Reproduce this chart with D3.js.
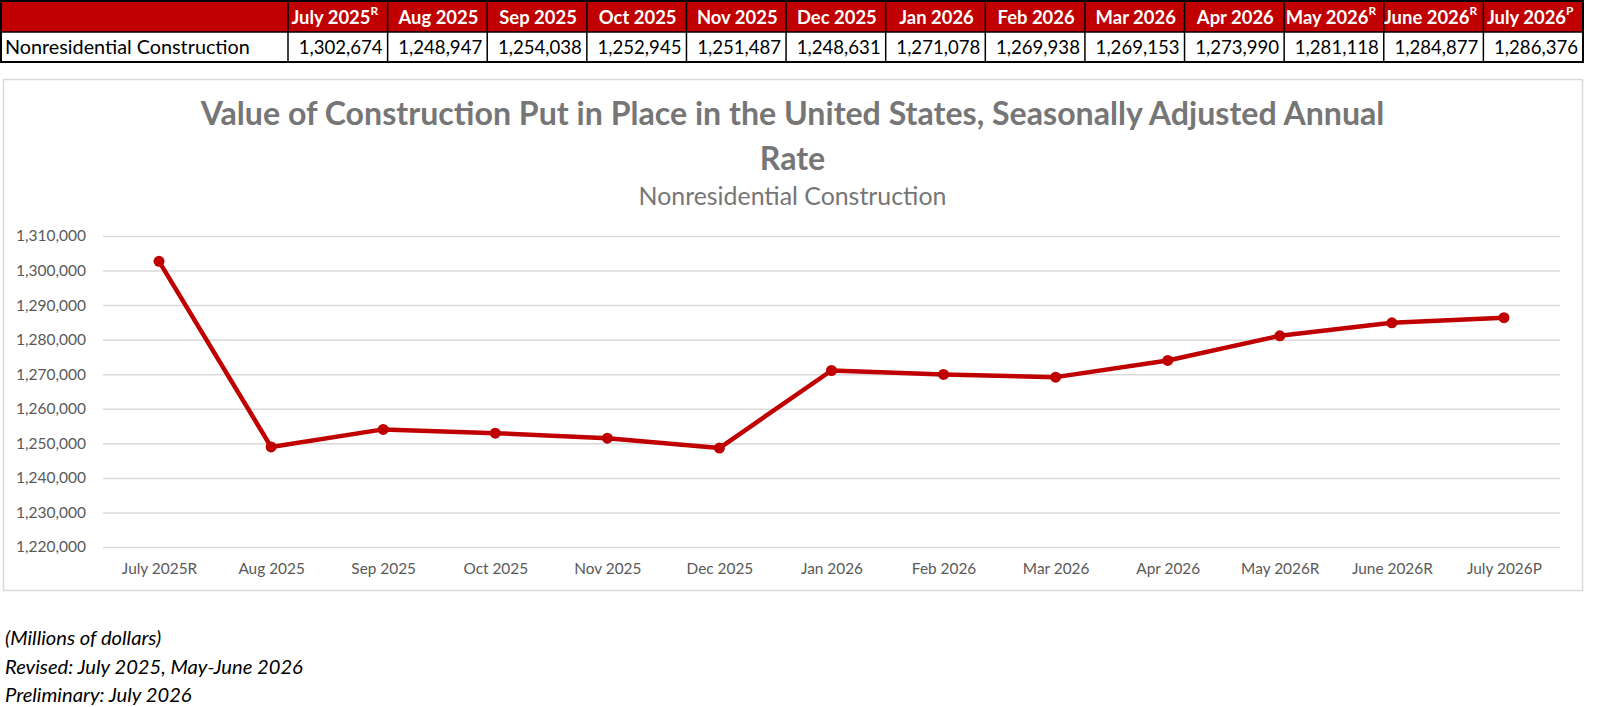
<!DOCTYPE html>
<html>
<head>
<meta charset="utf-8">
<script src="https://cdn.jsdelivr.net/npm/d3@7"></script>
<style>
  body { margin: 0; background: #fff; }
  svg { display: block; }
  text { font-family: Lato, "Open Sans", sans-serif; }
</style>
</head>
<body>
<div id="chart"></div>
<script>
const months = ["July 2025", "Aug 2025", "Sep 2025", "Oct 2025", "Nov 2025", "Dec 2025", "Jan 2026",
                "Feb 2026", "Mar 2026", "Apr 2026", "May 2026", "June 2026", "July 2026"];
const marks = ["R", "", "", "", "", "", "", "", "", "", "R", "R", "P"];
const values = [1302674, 1248947, 1254038, 1252945, 1251487, 1248631, 1271078,
                1269938, 1269153, 1273990, 1281118, 1284877, 1286376];
const yTicks = [1220000, 1230000, 1240000, 1250000, 1260000, 1270000, 1280000, 1290000, 1300000, 1310000];
const rowLabel = "Nonresidential Construction";
const titleLines = ["Value of Construction Put in Place in the United States, Seasonally Adjusted Annual", "Rate"];
const subtitle = "Nonresidential Construction";
const notes = ["(Millions of dollars)", "Revised: July 2025, May-June 2026", "Preliminary: July 2026"];

const width = 1600, height = 707;
const red = "#c00000", grey = "#595959";

const svg = d3.select("#chart")
  .append("svg")
  .attr("width", width)
  .attr("height", height)
  .attr("viewBox", [0, 0, width, height]);

// scale a font so the given text gets the wanted width, return the factor
function fit(sel, target) {
  const w = sel.node().getComputedTextLength();
  const k = target / w;
  sel.attr("font-size", parseFloat(sel.attr("font-size")) * k);
  return k;
}

// ---------- table on top ----------
const tab = { left: 0, first: 288, right: 1583, top: 1, mid: 32, bottom: 62 };
const col = d3.scaleBand().domain(months).range([tab.first, tab.right]);

const table = svg.append("g");
table.append("rect")
  .attr("x", tab.left).attr("y", tab.top)
  .attr("width", tab.right - tab.left).attr("height", tab.mid - tab.top)
  .attr("fill", red);

// grid lines of the table
table.append("g")
  .selectAll("line")
  .data([tab.first, ...months.map(m => col(m) + col.bandwidth())])
  .join("line")
  .attr("x1", d => d).attr("x2", d => d)
  .attr("y1", tab.top).attr("y2", tab.bottom)
  .attr("stroke", "#000").attr("stroke-width", 1.5);
table.append("rect")
  .attr("x", tab.left + 1).attr("y", tab.top)
  .attr("width", tab.right - tab.left - 1).attr("height", tab.bottom - tab.top)
  .attr("fill", "none").attr("stroke", "#000").attr("stroke-width", 2);
table.append("line")
  .attr("x1", tab.left).attr("x2", tab.right)
  .attr("y1", tab.mid).attr("y2", tab.mid)
  .attr("stroke", "#000").attr("stroke-width", 1.5);

const head = table.append("g")
  .selectAll("text")
  .data(months)
  .join("text")
  .attr("x", d => col(d) + col.bandwidth() / 2 + 1)
  .attr("y", 24)
  .attr("text-anchor", "middle")
  .attr("fill", "#fff")
  .attr("font-weight", 700)
  .attr("font-size", 19)
  .text(d => d);
head.filter((d, i) => marks[i] !== "")
  .attr("x", d => col(d) + col.bandwidth() / 2 - 3)
  .append("tspan")
  .attr("dy", -9)
  .attr("font-size", 12)
  .text((d) => marks[months.indexOf(d)]);

const hk = fit(head.filter((d, i) => i === 1), 80);
head.attr("font-size", 19 * hk);

const rowText = table.append("text")
  .attr("x", 5).attr("y", 54)
  .attr("font-size", 20)
  .attr("fill", "#000")
  .text(rowLabel);
fit(rowText, 245);

const cells = table.append("g")
  .selectAll("text")
  .data(values)
  .join("text")
  .attr("x", (d, i) => col(months[i]) + col.bandwidth() - 5)
  .attr("y", 54)
  .attr("text-anchor", "end")
  .attr("font-size", 20)
  .attr("fill", "#000")
  .text(d => d3.format(",")(d));
const ck = fit(cells.filter((d, i) => i === 1), 84);
cells.attr("font-size", 20 * ck);

// ---------- chart box ----------
const box = { left: 3, top: 79, right: 1582, bottom: 590 };
svg.append("rect")
  .attr("x", box.left + 0.5).attr("y", box.top + 0.5)
  .attr("width", box.right - box.left).attr("height", box.bottom - box.top)
  .attr("fill", "#fff").attr("stroke", "#d9d9d9").attr("stroke-width", 1.5);

const cx = (box.left + box.right) / 2;

const t1 = svg.append("text")
  .attr("x", cx).attr("y", 125)
  .attr("text-anchor", "middle")
  .attr("font-weight", 700)
  .attr("font-size", 31)
  .attr("fill", "#767676")
  .text(titleLines[0]);
const tk = fit(t1, 1184);
svg.append("text")
  .attr("x", cx).attr("y", 170)
  .attr("text-anchor", "middle")
  .attr("font-weight", 700)
  .attr("font-size", 31 * tk)
  .attr("fill", "#767676")
  .text(titleLines[1]);
const st = svg.append("text")
  .attr("x", cx).attr("y", 205)
  .attr("text-anchor", "middle")
  .attr("font-size", 22)
  .attr("fill", "#767676")
  .text(subtitle);
fit(st, 308);

// ---------- plot ----------
const plot = { left: 103, right: 1560, top: 236, bottom: 547 };

const x = d3.scalePoint()
  .domain(months)
  .range([plot.left, plot.right])
  .padding(0.5);

const y = d3.scaleLinear()
  .domain([yTicks[0], yTicks[yTicks.length - 1]])
  .range([plot.bottom, plot.top]);

const yAxis = svg.append("g")
  .attr("transform", `translate(${plot.left},0)`)
  .call(d3.axisLeft(y)
    .tickValues(yTicks)
    .tickFormat(d3.format(","))
    .tickSize(-(plot.right - plot.left))
    .tickPadding(17));
yAxis.select(".domain").remove();
yAxis.selectAll(".tick line").attr("stroke", "#d9d9d9").attr("stroke-width", 1.5);
yAxis.selectAll(".tick text").attr("fill", grey).attr("font-size", 15).attr("font-family", "Lato");
const yk = fit(yAxis.select(".tick:last-of-type text"), 70);
yAxis.selectAll(".tick text").attr("font-size", 15 * yk);

const xAxis = svg.append("g")
  .attr("transform", `translate(0,${plot.bottom})`)
  .call(d3.axisBottom(x)
    .tickSize(0)
    .tickPadding(16)
    .tickFormat((d, i) => d + marks[i]));
xAxis.select(".domain").remove();
xAxis.selectAll(".tick text").attr("fill", grey).attr("font-size", 15).attr("font-family", "Lato");
const xk = fit(xAxis.select(".tick:last-of-type text"), 75);
xAxis.selectAll(".tick text").attr("font-size", 15 * xk);

const line = d3.line()
  .x((d, i) => x(months[i]))
  .y(d => y(d));

svg.append("path")
  .datum(values)
  .attr("fill", "none")
  .attr("stroke", red)
  .attr("stroke-width", 4.5)
  .attr("stroke-linejoin", "round")
  .attr("d", line);

svg.append("g")
  .attr("fill", red)
  .selectAll("circle")
  .data(values)
  .join("circle")
  .attr("cx", (d, i) => x(months[i]))
  .attr("cy", d => y(d))
  .attr("r", 5.5);

// ---------- notes under the chart ----------
const noteText = svg.append("g")
  .selectAll("text")
  .data(notes)
  .join("text")
  .attr("x", 5)
  .attr("y", (d, i) => 645 + i * 28.5)
  .attr("font-style", "italic")
  .attr("font-size", 20)
  .attr("fill", "#000")
  .text(d => d);
const nk = fit(noteText.filter((d, i) => i === 1), 298);
noteText.attr("font-size", 20 * nk);
</script>
</body>
</html>
